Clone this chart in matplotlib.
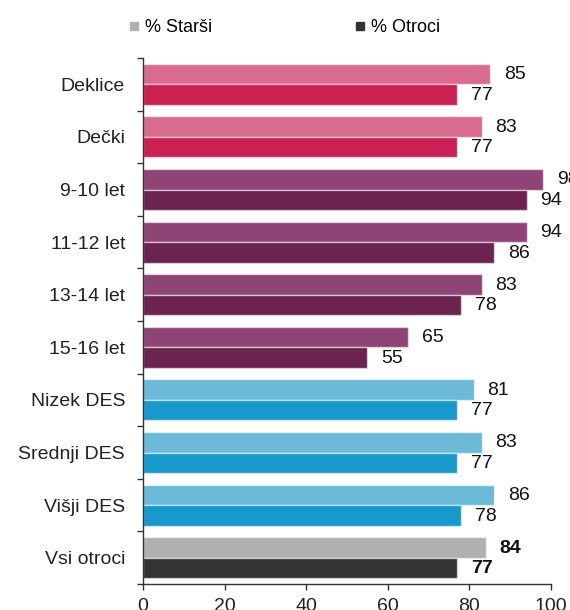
import numpy as np
from matplotlib import pyplot as plt
from matplotlib.lines import Line2D

plt.rcParams['font.family'] = ['Liberation Sans', 'DejaVu Sans']

# categories, top to bottom
groups = ['Deklice', 'Dečki', '9-10 let', '11-12 let', '13-14 let',
          '15-16 let', 'Nizek DES', 'Srednji DES', 'Višji DES', 'Vsi otroci']
starsi = [85, 83, 98, 94, 83, 65, 81, 83, 86, 84]
otroci = [77, 77, 94, 86, 78, 55, 77, 77, 78, 77]

# colours per group (parents lighter, children darker)
c_starsi = ['#d96b8f'] * 2 + ['#8e4475'] * 4 + ['#6bbad8'] * 3 + ['#b0b0b0']
c_otroci = ['#cc1f56'] * 2 + ['#6c2350'] * 4 + ['#1799cb'] * 3 + ['#333333']

fig = plt.figure(figsize=(5.7, 6.1), dpi=100)
ax = fig.add_axes([0.251, 0.0426, 0.7157, 0.8623])

y = np.arange(len(groups))
h = 0.39
ax.barh(y - h / 2, starsi, height=h, color=c_starsi,
        edgecolor=(1, 1, 1, 0.55), linewidth=1)
ax.barh(y + h / 2, otroci, height=h, color=c_otroci,
        edgecolor=(1, 1, 1, 0.55), linewidth=1)

# value labels
for i in range(len(groups)):
    w = 'bold' if i == len(groups) - 1 else 'normal'
    ax.annotate(str(starsi[i]), (starsi[i], y[i] - h / 2),
                xytext=(10, -0.5), textcoords='offset points',
                ha='left', va='center', fontsize=14, weight=w, color='#111111')
    ax.annotate(str(otroci[i]), (otroci[i], y[i] + h / 2),
                xytext=(10, -0.5), textcoords='offset points',
                ha='left', va='center', fontsize=14, weight=w, color='#111111')

ax.set_xlim(0, 100)
ax.set_ylim(len(groups) - 0.5, -0.5)
ax.set_xticks(np.arange(0, 101, 20))

ax.set_yticks(y)
ax.set_yticklabels(groups)
ax.set_yticks(np.arange(-0.5, len(groups)), minor=True)
ax.tick_params(axis='y', which='major', length=0, pad=13, labelsize=14,
               labelcolor='#222222')
ax.tick_params(axis='y', which='minor', length=4, width=1, color='#333333',
               direction='out')
ax.tick_params(axis='x', length=4, width=1, color='#333333', labelsize=14,
               labelcolor='#222222', pad=6)

for s in ['top', 'right']:
    ax.spines[s].set_visible(False)
for s in ['left', 'bottom']:
    ax.spines[s].set_color('#333333')
    ax.spines[s].set_linewidth(1)

handles = [Line2D([], [], marker='s', linestyle='none', markersize=6,
                  color='#b0b0b0'),
           Line2D([], [], marker='s', linestyle='none', markersize=6,
                  color='#333333')]
fig.legend(handles, ['% Starši', '% Otroci'], ncol=2, frameon=False,
           fontsize=13, loc='center left', bbox_to_anchor=(0.197, 0.955),
           handlelength=0.6, handletextpad=0.3, columnspacing=7.9)

plt.savefig('out.png', dpi=100)
